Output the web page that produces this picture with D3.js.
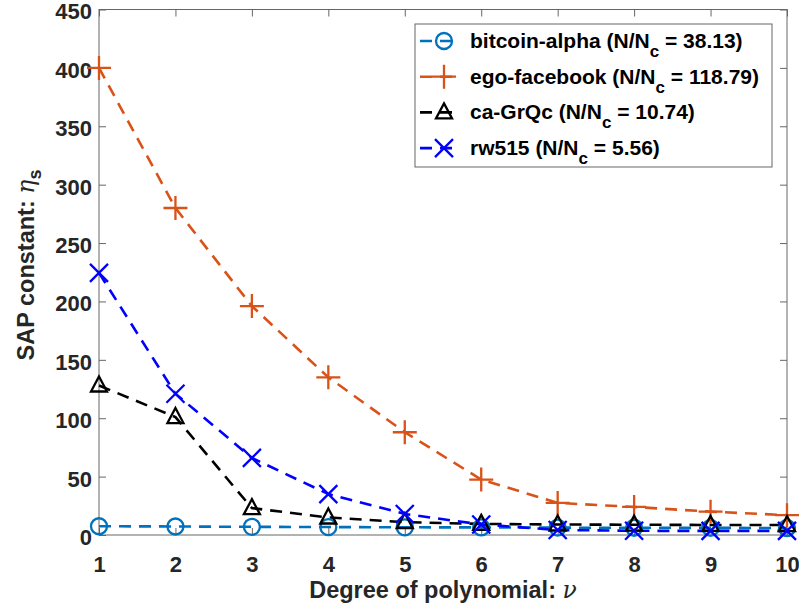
<!DOCTYPE html>
<html>
<head>
<meta charset="utf-8">
<script src="https://cdn.jsdelivr.net/npm/d3@7"></script>
<style>
  body { margin: 0; background: #fff; }
  text { font-family: "Liberation Sans", Arial, Helvetica, sans-serif; }
</style>
</head>
<body>
<svg width="799" height="609"></svg>
<script>
// values
let degrees = [1, 2, 3, 4, 5, 6, 7, 8, 9, 10];
let bitcoinAlpha = [7.5, 7.3, 7.0, 6.8, 6.6, 6.5, 6.3, 6.2, 6.1, 6.0];
let egoFacebook = [400, 280, 196, 135, 88, 47.5, 27.5, 24, 20, 17];
let caGrQc = [128, 101, 23, 15, 11, 9.5, 9, 8.8, 8.6, 8.5];
let rw515 = [224.5, 121, 66, 35, 18, 9, 4.3, 3.6, 3.5, 3.5];
let yTicks = [0, 50, 100, 150, 200, 250, 300, 350, 400, 450];
let seriesNames = ["bitcoin-alpha", "ego-facebook", "ca-GrQc", "rw515"];
let ratios = ["38.13", "118.79", "10.74", "5.56"];

let series = [
  {name: seriesNames[0], ratio: ratios[0], values: bitcoinAlpha, color: "#0072BD", marker: "circle"},
  {name: seriesNames[1], ratio: ratios[1], values: egoFacebook, color: "#D95319", marker: "plus"},
  {name: seriesNames[2], ratio: ratios[2], values: caGrQc, color: "#000000", marker: "triangle"},
  {name: seriesNames[3], ratio: ratios[3], values: rw515, color: "#0000FF", marker: "cross"}
];

let svg = d3.select("svg"),
    margin = {top: 9.5, right: 12, bottom: 74, left: 99},
    width = +svg.attr("width") - margin.left - margin.right,
    height = +svg.attr("height") - margin.top - margin.bottom,
    g = svg.append("g").attr("transform", "translate(" + margin.left + "," + margin.top + ")");

let x = d3.scaleLinear().domain([1, 10]).range([0, width]);
let y = d3.scaleLinear().domain([0, 450]).range([height, 0]);

let axisColor = "#666";
let tickLen = 7;

// box
g.append("rect")
  .attr("width", width).attr("height", height)
  .attr("fill", "none").attr("stroke", axisColor).attr("stroke-width", 1);

// inward ticks on all sides
function styleAxis(sel) {
  sel.select(".domain").remove();
  sel.selectAll(".tick line").attr("stroke", axisColor);
  sel.selectAll(".tick text")
    .attr("fill", "#262626")
    .attr("font-size", 22)
    .attr("font-weight", "bold");
}

g.append("g")
  .attr("transform", "translate(0," + height + ")")
  .call(d3.axisBottom(x).tickValues(degrees).tickSizeInner(-tickLen).tickFormat(d3.format("d")))
  .call(styleAxis)
  .selectAll(".tick text").attr("y", 37).attr("dy", null);
g.append("g")
  .call(d3.axisTop(x).tickValues(degrees).tickSizeInner(-tickLen).tickFormat(""))
  .call(styleAxis);
g.append("g")
  .call(d3.axisLeft(y).tickValues(yTicks).tickSizeInner(-tickLen).tickPadding(7))
  .call(styleAxis)
  .selectAll(".tick text").attr("dy", "0.43em");
g.append("g")
  .attr("transform", "translate(" + width + ",0)")
  .call(d3.axisRight(y).tickValues(yTicks).tickSizeInner(-tickLen).tickFormat(""))
  .call(styleAxis);

// axis labels
let xl = svg.append("text")
  .attr("x", margin.left + width / 2)
  .attr("y", 598)
  .attr("text-anchor", "middle")
  .attr("font-size", 23.5)
  .attr("font-weight", "bold")
  .attr("fill", "#262626");
xl.append("tspan").text("Degree of polynomial: ");
xl.append("tspan").attr("font-family", "DejaVu Serif").attr("font-style", "italic").attr("font-weight", "normal").text("ν");

let yl = svg.append("text")
  .attr("transform", "translate(34,265) rotate(-90)")
  .attr("text-anchor", "middle")
  .attr("font-size", 23.5)
  .attr("font-weight", "bold")
  .attr("fill", "#262626");
yl.append("tspan").text("SAP constant: ");
yl.append("tspan").attr("font-family", "DejaVu Serif").attr("font-style", "italic").attr("font-weight", "normal").text("η");
yl.append("tspan").attr("font-size", 18).attr("dy", 7).text("s");

// marker shapes
function drawMarker(sel, type, color) {
  sel.attr("fill", "none").attr("stroke", color).attr("stroke-width", 2.3);
  if (type === "circle") {
    sel.append("circle").attr("r", 8);
  } else if (type === "plus") {
    sel.append("path").attr("d", "M-12,0H12M0,-12V12");
  } else if (type === "triangle") {
    sel.append("path").attr("d", "M0,-9L8,6H-8Z").attr("stroke-linejoin", "miter");
  } else if (type === "cross") {
    sel.append("path").attr("d", "M-9,-9L9,9M-9,9L9,-9");
  }
}

let line = d3.line()
  .x(function(d, i) { return x(degrees[i]); })
  .y(function(d) { return y(d); });

let plot = g.append("g");
series.forEach(function(s) {
  plot.append("path")
    .attr("d", line(s.values))
    .attr("fill", "none")
    .attr("stroke", s.color)
    .attr("stroke-width", 2.6)
    .attr("stroke-dasharray", "12,8");
});
series.forEach(function(s) {
  s.values.forEach(function(v, i) {
    let m = plot.append("g").attr("transform", "translate(" + x(degrees[i]) + "," + y(v) + ")");
    drawMarker(m, s.marker, s.color);
  });
});

// legend
let lg = svg.append("g").attr("transform", "translate(415,24)");
lg.append("rect")
  .attr("width", 357).attr("height", 143)
  .attr("fill", "#fff").attr("stroke", axisColor).attr("stroke-width", 1);

let items = lg.selectAll("g.item")
  .data(series)
  .enter().append("g")
    .attr("class", "item")
    .attr("transform", function(d, i) { return "translate(0," + (17 + i * 35.7) + ")"; });

items.append("line")
  .attr("x1", 5).attr("x2", 40).attr("y1", 0).attr("y2", 0)
  .attr("stroke", function(d) { return d.color; })
  .attr("stroke-width", 2.6)
  .attr("stroke-dasharray", "12,8");
items.each(function(d) {
  let m = d3.select(this).append("g").attr("transform", "translate(29,0)");
  drawMarker(m, d.marker, d.color);
});

let lt = items.append("text")
  .attr("x", 55)
  .attr("y", 7)
  .attr("font-size", 21)
  .attr("font-weight", "bold")
  .attr("fill", "#000");
lt.append("tspan").text(function(d) { return d.name + " (N/N"; });
lt.append("tspan").attr("font-size", 17).attr("dy", 9).text("c");
lt.append("tspan").attr("dy", -9).text(function(d) { return " = " + d.ratio + ")"; });
</script>
</body>
</html>
